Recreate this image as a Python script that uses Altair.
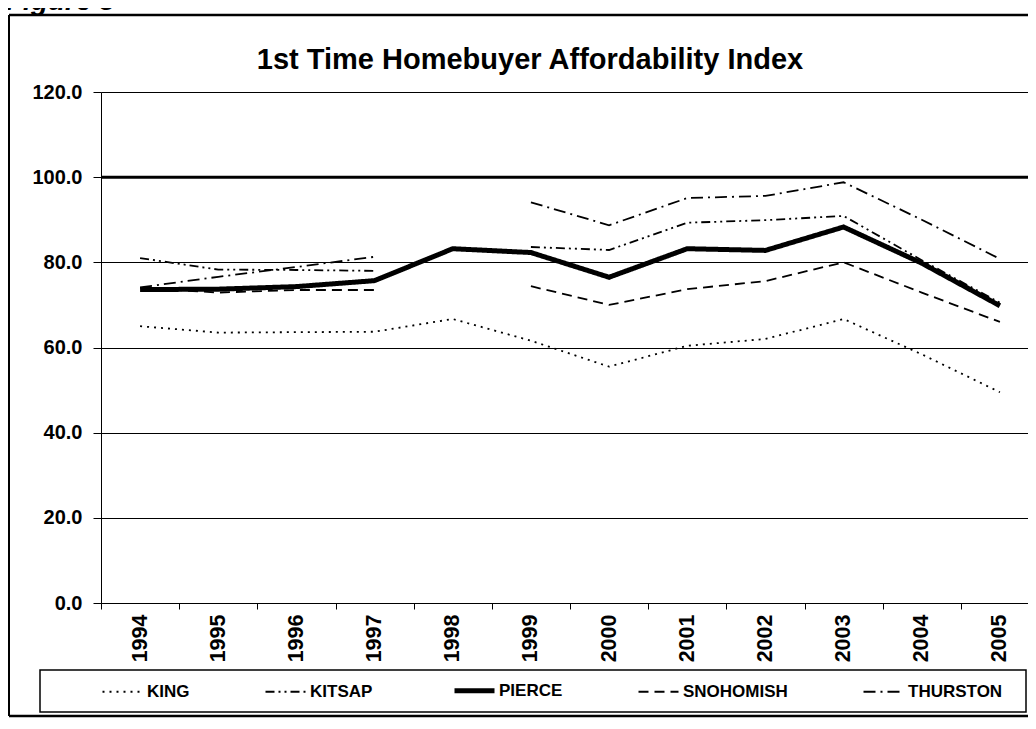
import altair as alt
import pandas as pd

# ---- data ----
years = ["1994", "1995", "1996", "1997", "1998", "1999",
         "2000", "2001", "2002", "2003", "2004", "2005"]
counties = ["KING", "KITSAP", "PIERCE", "SNOHOMISH", "THURSTON"]
king = [65.0, 63.5, 63.6, 63.7, 66.7, 61.6, 55.5, 60.4, 62.0, 66.7, 58.4, 49.5]
kitsap = [81.0, 78.3, 78.2, 78.0, None, 83.6, 82.9, 89.3, 89.9, 90.9, 80.5, 70.5]
pierce = [73.6, 73.7, 74.3, 75.7, 83.2, 82.3, 76.5, 83.2, 82.8, 88.3, 79.8, 69.8]
snohomish = [74.0, 72.9, 73.5, 73.5, None, 74.4, 70.0, 73.7, 75.6, 80.0, 72.9, 66.0]
thurston = [74.1, 76.6, 78.9, 81.3, None, 94.1, 88.7, 95.1, 95.6, 98.8, 90.0, 80.8]
y_ticks = [0, 20, 40, 60, 80, 100, 120]
reference_level = [100]
title_text = "1st Time Homebuyer Affordability Index"
figure_label = "Figure 3"

dash_styles = [[2, 5], [9, 4, 2, 4, 2, 4], [1, 0], [10, 6], [12, 5, 2, 5]]

rows = []
for name, vals in zip(counties, [king, kitsap, pierce, snohomish, thurston]):
    for yr, v in zip(years, vals):
        if v is None:
            continue
        seg = "early" if int(yr) <= 1997 else "late"
        if name in ("KING", "PIERCE"):
            seg = "all"
        rows.append({"year": yr, "value": v, "county": name, "seg": seg})
df = pd.DataFrame(rows)
ref_df = pd.DataFrame({"level": reference_level})
one = pd.DataFrame({"k": [0]})

FONT = "Liberation Sans"

x_enc = alt.X(
    "year:O",
    bandPosition=0.5,
    scale=alt.Scale(type="band", domain=years, range=[0, 938], paddingInner=0, paddingOuter=0),
    axis=alt.Axis(
        title=None, labelAngle=-90, tickBand="extent", tickSize=6, labelPadding=5,
        labelFontSize=21.5, labelFontWeight="bold", labelFont=FONT, labelColor="black",
        domainColor="black", tickColor="black", grid=False,
    ),
)
y_enc = alt.Y(
    "value:Q",
    scale=alt.Scale(domain=[0, 120], nice=False, zero=True),
    axis=alt.Axis(
        title=None, values=y_ticks, format=".1f", tickSize=8, labelPadding=11,
        labelFontSize=20, labelFontWeight="bold", labelFont=FONT, labelColor="black",
        domainColor="black", tickColor="black", grid=True, gridColor="black",
        gridWidth=1, gridOpacity=1,
    ),
)

lines = alt.Chart(df).mark_line(color="black").encode(
    x=x_enc,
    y=y_enc,
    strokeDash=alt.StrokeDash(
        "county:N", scale=alt.Scale(domain=counties, range=dash_styles),
        legend=alt.Legend(
            title=None, orient="none", legendX=13, legendY=590, direction="horizontal",
            symbolType="stroke", symbolSize=1600, symbolStrokeColor="black",
            symbolStrokeWidth=alt.ExprRef(expr="datum.value === 'PIERCE' ? 5 : 1.8"),
            labelFontSize=17, labelFontWeight="bold", labelFont=FONT, labelColor="black",
            labelOffset=16, columnPadding=71, padding=0,
        ),
    ),
    strokeWidth=alt.condition(alt.datum.county == "PIERCE", alt.value(5), alt.value(1.8)),
    detail="seg:N",
)

ref_rule = alt.Chart(ref_df).mark_rule(color="black", strokeWidth=3).encode(
    y=alt.Y("level:Q", scale=alt.Scale(domain=[0, 120], nice=False))
)

legend_box = alt.Chart(one).mark_rect(filled=False, stroke="black", strokeWidth=1.5).encode(
    x=alt.value(-61), x2=alt.value(925), y=alt.value(578), y2=alt.value(620)
)
top_border = alt.Chart(one).mark_rule(color="black", strokeWidth=2.5).encode(
    x=alt.value(-92), x2=alt.value(940), y=alt.value(-77)
)
bottom_border = alt.Chart(one).mark_rule(color="black", strokeWidth=2.5).encode(
    x=alt.value(-92), x2=alt.value(940), y=alt.value(624)
)
left_border = alt.Chart(one).mark_rule(color="black", strokeWidth=2).encode(
    x=alt.value(-92), y=alt.value(-77), y2=alt.value(624)
)
fig_label = alt.Chart(one).mark_text(
    text=figure_label, align="left", baseline="alphabetic", fontSize=28,
    fontWeight="bold", fontStyle="italic", font=FONT, color="black",
).encode(x=alt.value(-95), y=alt.value(-82))
title_mark = alt.Chart(one).mark_text(
    text=title_text, align="center", baseline="alphabetic", fontSize=29,
    fontWeight="bold", font=FONT, color="black",
).encode(x=alt.value(429), y=alt.value(-23))

chart = alt.layer(
    ref_rule, lines, legend_box, top_border, bottom_border, left_border,
    fig_label, title_mark
).properties(
    width=927,
    height=511,
    autosize=alt.AutoSizeParams(type="none"),
    padding={"left": 93, "top": 84, "right": 0, "bottom": 115},
).configure_view(stroke="transparent").configure(font=FONT)

chart.save("out.html", embed_options={"renderer": "svg", "actions": False})
